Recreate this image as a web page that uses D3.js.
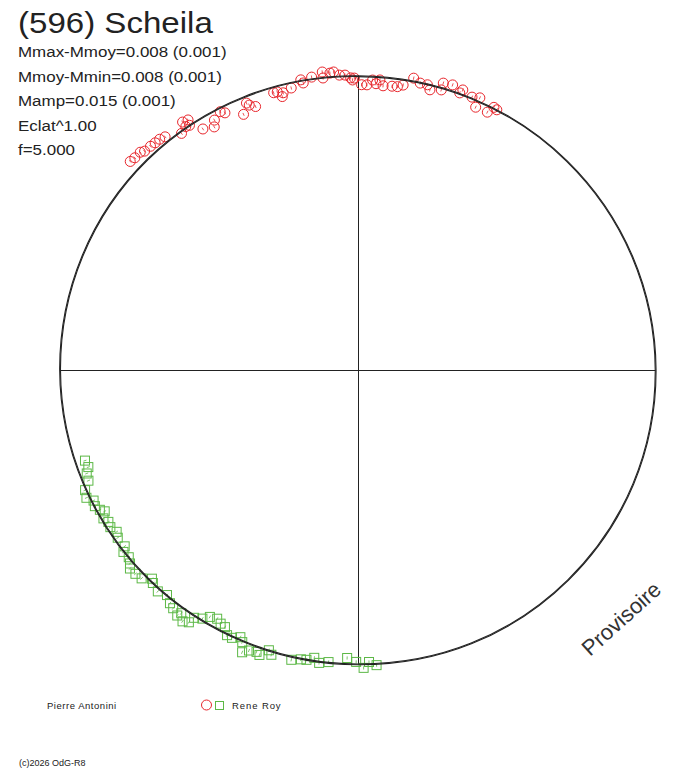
<!DOCTYPE html>
<html>
<head>
<meta charset="utf-8">
<script src="https://cdn.jsdelivr.net/npm/d3@7"></script>
<style>
body { margin: 0; background: #fff; }
text { font-family: "Liberation Sans", Arial, sans-serif; }
</style>
</head>
<body>
<script>
///////////////////////////////////////////////////////////
// (596) Scheila : polar lightcurve, two observers
// phase 0..1 goes clockwise from the top, radius = flux
///////////////////////////////////////////////////////////

// fit curve (mag relative to mean)
var fitPhase = [0, 0.0625, 0.125, 0.1875, 0.25, 0.3125, 0.375, 0.4375,
                0.5, 0.5625, 0.625, 0.6875, 0.75, 0.8125, 0.875, 0.9375];
var fitMag = [0.008, 0.006, 0.002, -0.003, -0.006, -0.007, -0.004, 0.000,
              0.006, 0.005, 0.000, -0.004, -0.007, -0.008, -0.006, 0.001];
var fitBand = 0.003;

// Pierre Antonini (red circles)
var antoniniPhase = [0.868, 0.871, 0.875, 0.877, 0.881, 0.884, 0.887, 0.890, 0.898, 0.902,
                     0.905, 0.904, 0.902, 0.909, 0.915, 0.917, 0.922, 0.924, 0.933, 0.937,
                     0.938, 0.941, 0.953, 0.955, 0.958, 0.957, 0.963, 0.969, 0.970, 0.975,
                     0.981, 0.981, 0.985, 0.987, 0.990, 0.993, 0.996, 0.998, 0.997, 0.005,
                     0.002, 0.008, 0.010, 0.012, 0.014, 0.019, 0.022, 0.025, 0.030, 0.034,
                     0.038, 0.040, 0.046, 0.046, 0.051, 0.056, 0.057, 0.063, 0.067, 0.067,
                     0.074, 0.076, 0.078];
var antoniniMag = [-0.046, -0.043, -0.043, -0.035, -0.033, -0.031, -0.030, -0.024, 0.003, -0.028,
                   -0.023, -0.004, -0.008, 0.035, 0.051, 0.029, 0.012, 0.024, 0.060, 0.025,
                   0.036, 0.050, 0.023, 0.024, 0.033, 0.046, 0.023, 0.001, 0.014, -0.002,
                   -0.015, 0.007, -0.008, -0.011, 0.002, 0.003, 0.014, 0.015, 0.022, 0.040,
                   0.040, 0.021, 0.034, 0.019, 0.040, 0.038, 0.037, 0.028, -0.004, 0.009,
                   0.009, 0.025, -0.012, 0.014, -0.016, 0.003, -0.011, 0.001, 0.030, -0.008,
                   0.028, 0.001, 0.004];

// Rene Roy (green squares)
var royPhase = [0.699, 0.695, 0.692, 0.688, 0.684, 0.680, 0.677, 0.674, 0.671, 0.669,
                0.666, 0.663, 0.660, 0.656, 0.653, 0.647, 0.645, 0.641, 0.638, 0.636,
                0.632, 0.628, 0.624, 0.622, 0.617, 0.612, 0.608, 0.605, 0.601, 0.600,
                0.597, 0.594, 0.593, 0.589, 0.586, 0.582, 0.579, 0.576, 0.573, 0.570,
                0.566, 0.564, 0.562, 0.559, 0.555, 0.553, 0.549, 0.547, 0.536, 0.531,
                0.528, 0.524, 0.521, 0.516, 0.506, 0.501, 0.497, 0.494, 0.490];
var royMag = [0.031, 0.035, 0.021, 0.017, -0.008, -0.015, 0.004, -0.001, 0.009, 0.022,
              0.005, 0.014, 0.010, 0.020, 0.011, 0.013, -0.003, 0.000, -0.011, -0.023,
              -0.021, -0.016, 0.010, 0.001, -0.009, 0.003, -0.013, -0.020, -0.032, -0.017,
              -0.038, -0.028, -0.004, 0.010, 0.030, 0.038, 0.028, 0.024, 0.001, 0.000,
              0.015, 0.001, -0.033, -0.018, -0.013, -0.020, 0.007, -0.006, -0.005, 0.004,
              0.006, 0.018, 0.002, 0.009, 0.029, 0.015, -0.007, 0.014, 0.001];
var magErr = 0.006;

var title = "(596) Scheila";
var infoLines = ["Mmax-Mmoy=0.008 (0.001)", "Mmoy-Mmin=0.008 (0.001)",
                 "Mamp=0.015 (0.001)", "Eclat^1.00", "f=5.000"];
var observers = ["Pierre Antonini", "Rene Roy"];
var stamp = "Provisoire";
var copyright = "(c)2026 OdG-R8";

var width = 688, height = 768;
var cx = 358, cy = 370;
var redColor = "#e8262c", greenColor = "#5cb846", lineColor = "#222";

var svg = d3.select("body").append("svg")
	.attr("width", width)
	.attr("height", height);

svg.append("rect").attr("width", width).attr("height", height).attr("fill", "#fff");

var angle = d3.scaleLinear().domain([0, 1]).range([0, 2 * Math.PI]);
var rScale = d3.scaleLinear().domain([0, 1]).range([0, 296]);

function flux(m) { return Math.pow(10, -0.4 * m); }
function px(phase, m) { return cx + rScale(flux(m)) * Math.sin(angle(phase)); }
function py(phase, m) { return cy - rScale(flux(m)) * Math.cos(angle(phase)); }

var fit = fitPhase.map(function(p, i) { return {phase: p, mag: fitMag[i]}; });
var red = antoniniPhase.map(function(p, i) { return {phase: p, mag: antoniniMag[i]}; });
var green = royPhase.map(function(p, i) { return {phase: p, mag: royMag[i]}; });

// axes, ending on the fit curve
svg.append("line")
	.attr("x1", px(fitPhase[12], fitMag[12])).attr("y1", cy + 0.5)
	.attr("x2", px(fitPhase[4], fitMag[4])).attr("y2", cy + 0.5)
	.attr("stroke", lineColor).attr("stroke-width", 1);
svg.append("line")
	.attr("x1", cx + 0.5).attr("y1", py(fitPhase[0], fitMag[0]))
	.attr("x2", cx + 0.5).attr("y2", py(fitPhase[8], fitMag[8]))
	.attr("stroke", lineColor).attr("stroke-width", 1);

// red circles
var gRed = svg.append("g");
gRed.selectAll("circle")
	.data(red)
	.enter().append("circle")
	.attr("cx", function(d) { return px(d.phase, d.mag); })
	.attr("cy", function(d) { return py(d.phase, d.mag); })
	.attr("r", 5)
	.attr("fill", "none")
	.attr("stroke", redColor)
	.attr("stroke-width", 1);
gRed.selectAll("line")
	.data(red)
	.enter().append("line")
	.attr("x1", function(d) { return px(d.phase, d.mag - magErr); })
	.attr("y1", function(d) { return py(d.phase, d.mag - magErr); })
	.attr("x2", function(d) { return px(d.phase, d.mag + magErr); })
	.attr("y2", function(d) { return py(d.phase, d.mag + magErr); })
	.attr("stroke", redColor)
	.attr("stroke-width", 0.8);

// green squares
var gGreen = svg.append("g");
gGreen.selectAll("rect")
	.data(green)
	.enter().append("rect")
	.attr("x", function(d) { return px(d.phase, d.mag) - 4.5; })
	.attr("y", function(d) { return py(d.phase, d.mag) - 4.5; })
	.attr("width", 9)
	.attr("height", 9)
	.attr("fill", "none")
	.attr("stroke", greenColor)
	.attr("stroke-width", 1);
gGreen.selectAll("line")
	.data(green)
	.enter().append("line")
	.attr("x1", function(d) { return px(d.phase, d.mag - magErr); })
	.attr("y1", function(d) { return py(d.phase, d.mag - magErr); })
	.attr("x2", function(d) { return px(d.phase, d.mag + magErr); })
	.attr("y2", function(d) { return py(d.phase, d.mag + magErr); })
	.attr("stroke", greenColor)
	.attr("stroke-width", 0.8);

// fit curve, drawn as a narrow double line on top of the points
var gFit = svg.append("g").attr("transform", "translate(" + cx + "," + cy + ")");
[-fitBand / 2, fitBand / 2].forEach(function(off) {
	var line = d3.lineRadial()
		.angle(function(d) { return angle(d.phase); })
		.radius(function(d) { return rScale(flux(d.mag + off)); })
		.curve(d3.curveCatmullRomClosed);
	gFit.append("path")
		.attr("d", line(fit))
		.attr("fill", "none")
		.attr("stroke", lineColor)
		.attr("stroke-width", 1.1);
});

// title and info block (wide letters like the original)
function stretch(sel, k, how) {
	sel.each(function() {
		var w = this.getComputedTextLength();
		d3.select(this).attr("textLength", w * k).attr("lengthAdjust", how || "spacingAndGlyphs");
	});
}

svg.append("text")
	.attr("x", 18).attr("y", 33)
	.attr("font-size", 29)
	.attr("fill", "#222")
	.text(title)
	.call(stretch, 1.14);

svg.selectAll(".info")
	.data(infoLines)
	.enter().append("text")
	.attr("class", "info")
	.attr("x", 18)
	.attr("y", function(d, i) { return 57 + i * 24.5; })
	.attr("font-size", 14)
	.attr("fill", "#222")
	.text(function(d) { return d; })
	.call(stretch, 1.21);

// observer legend
svg.append("text")
	.attr("x", 47).attr("y", 709)
	.attr("font-size", 9.5)
	.attr("fill", "#222")
	.text(observers[0])
	.call(stretch, 1.12, "spacing");
svg.append("circle")
	.attr("cx", 206.5).attr("cy", 705)
	.attr("r", 5)
	.attr("fill", "none")
	.attr("stroke", redColor);
svg.append("rect")
	.attr("x", 215.5).attr("y", 701.5)
	.attr("width", 8).attr("height", 8)
	.attr("fill", "none")
	.attr("stroke", greenColor);
svg.append("text")
	.attr("x", 232).attr("y", 709)
	.attr("font-size", 9.5)
	.attr("fill", "#222")
	.text(observers[1])
	.call(stretch, 1.15, "spacing");

svg.append("text")
	.attr("x", 19).attr("y", 766)
	.attr("font-size", 9)
	.attr("fill", "#222")
	.text(copyright);

// watermark
svg.append("text")
	.attr("transform", "translate(590,657) rotate(-42)")
	.attr("font-size", 22)
	.attr("fill", "#333")
	.text(stamp);
</script>
</body>
</html>
